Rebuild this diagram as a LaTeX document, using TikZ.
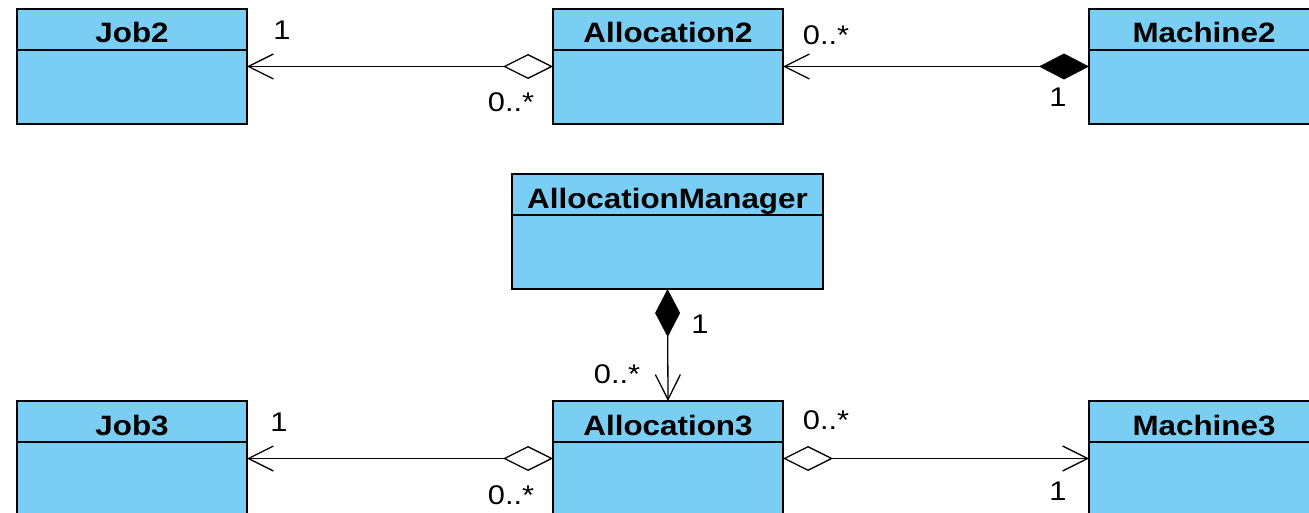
\documentclass[tikz,border=0pt]{standalone}
\usepackage{fontspec}
\setmainfont{Liberation Sans}
\newfontfamily\ttlfont[FakeStretch=1.12]{Liberation Sans Bold}
\newfontfamily\lblfont[FakeStretch=1.14]{Liberation Sans}
\usetikzlibrary{arrows.meta,calc}
\definecolor{clsblue}{RGB}{122,206,243}
\newcommand\umlcls[4]{%
  \node[cls,minimum width=#4] (#1) at (#2) {};
  \draw[divider] ($(#1.north west)+(0,41)$) -- ($(#1.north east)+(0,41)$);
  \node[ttl] (#1-t) at ($(#1.north)+(0,34)$) {#3};
}
\begin{document}
\begin{tikzpicture}[x=1pt,y=-1pt,
  cls/.style={draw=black,line width=1.4pt,fill=clsblue,minimum width=230pt,minimum height=115pt,inner sep=0pt,outer sep=0pt},
  divider/.style={line width=1.2pt},
  ttl/.style={anchor=base,inner sep=0pt,font=\ttlfont\fontsize{28}{32}\selectfont},
  lbl/.style={inner sep=0pt,font=\lblfont\fontsize{27}{30}\selectfont},
  conn/.style={line width=1.3pt},
  agg/.tip={Diamond[open,length=50pt,width=25pt]},
  comp/.tip={Diamond[length=50pt,width=26pt]},
  nav/.tip={Straight Barb[length=25pt,width=25pt]}]
\useasboundingbox (0,0) rectangle (1309,513);
\clip (0,0) rectangle (1309,513);
\fill[white] (0,0) rectangle (1309,513);

\umlcls{job2}{132,66.5}{Job2}{230pt}
\umlcls{alloc2}{668,66.5}{Allocation2}{230pt}
\umlcls{mach2}{1204,66.5}{Machine2}{230pt}
\umlcls{mgr}{667.5,231.5}{AllocationManager}{311pt}
\umlcls{job3}{132,458.5}{Job3}{230pt}
\umlcls{alloc3}{668,458.5}{Allocation3}{230pt}
\umlcls{mach3}{1204,458.5}{Machine3}{230pt}

\draw[conn,nav-agg] (job2.east) -- (alloc2.west);
\draw[conn,nav-comp] (alloc2.east) -- (mach2.west);
\draw[conn,{Diamond[length=48pt,width=25pt]}-nav] (mgr.south) -- (alloc3.north);
\draw[conn,nav-agg] (job3.east) -- (alloc3.west);
\draw[conn,agg-nav] (alloc3.east) -- (mach3.west);

\node[lbl] (l1) at ($(job2.east)+(35,-36)$) {1};
\node[lbl] (l2) at ($(alloc2.west)+(-42,36)$) {0..*};
\node[lbl] (l3) at ($(alloc2.east)+(43,-31.5)$) {0..*};
\node[lbl] (l4) at ($(mach2.west)+(-31,30.5)$) {1};
\node[lbl] (l5) at ($(mgr.south)+(32.5,35)$) {1};
\node[lbl] (l6) at ($(mgr.south)+(-50.5,85)$) {0..*};
\node[lbl] (l7) at ($(job3.east)+(32,-36.5)$) {1};
\node[lbl] (l8) at ($(alloc3.west)+(-42,36.5)$) {0..*};
\node[lbl] (l9) at ($(alloc3.east)+(43,-38.5)$) {0..*};
\node[lbl] (l10) at ($(mach3.west)+(-31,32.5)$) {1};
\end{tikzpicture}
\end{document}
